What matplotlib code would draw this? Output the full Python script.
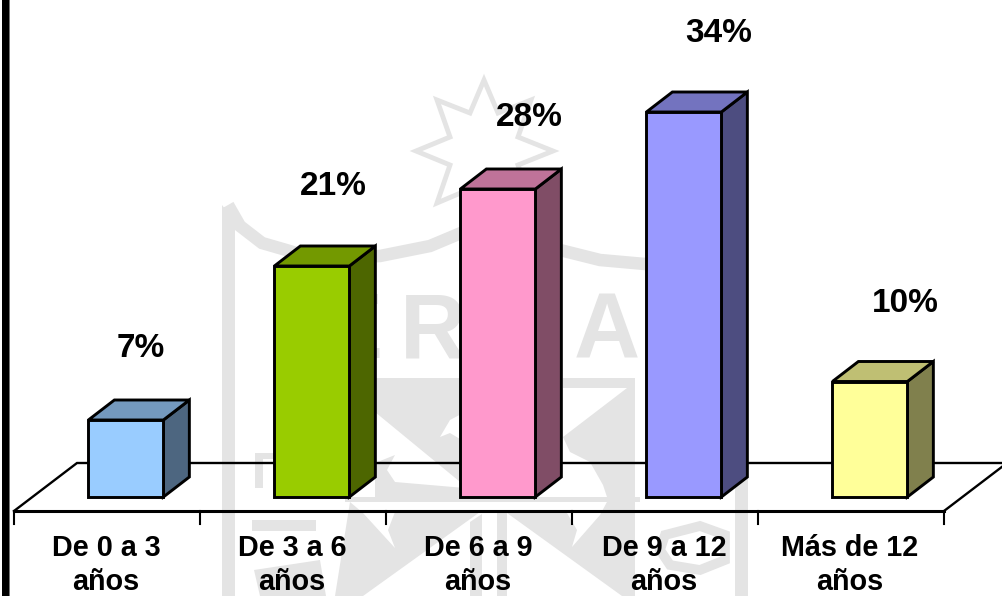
import matplotlib
matplotlib.use("Agg")
import matplotlib.pyplot as plt
from matplotlib.patches import Polygon, PathPatch, Rectangle
from matplotlib.path import Path
from matplotlib.transforms import Affine2D

plt.rcParams['font.family'] = ['Liberation Sans', 'DejaVu Sans']

# data
categories = ["De 0 a 3\naños", "De 3 a 6\naños", "De 6 a 9\naños", "De 9 a 12\naños", "Más de 12\naños"]
heights = [7, 21, 28, 35, 10.5]
labels = ["7%", "21%", "28%", "34%", "10%"]

front_colors = ["#99CCFF", "#99CC00", "#FF99CC", "#9999FF", "#FFFF99"]
top_colors = ["#7499BE", "#739900", "#BF7399", "#7373BF", "#BFBF73"]
side_colors = ["#4D6680", "#4D6600", "#804D66", "#4D4D80", "#80804D"]

# hand placed data labels, offset from the bar front centre (px)
label_dx = [15, 21, 31, 35, 35]
label_dy = [63, 71, 63, 70, 69]

W, H = 1003, 596
X0, XSTEP = 14, 186      # first tick, tick spacing (px)
Y0, YSTEP = 497, 11      # bar base, px per percent
DEPTH_X = 26 / XSTEP
DEPTH_Y = 20 / YSTEP
BAR_LEFT, BAR_W = 0.4, 0.403
WM = "#e4e4e4"

fig = plt.figure(figsize=(W / 100, H / 100), dpi=100, facecolor="white")
ax = fig.add_axes([0, 0, 1, 1])
ax.set_xlim(-X0 / XSTEP, (W - X0) / XSTEP)
ax.set_ylim((Y0 - H) / YSTEP, Y0 / YSTEP)
ax.axis("off")

# watermark shapes are in image pixels, y down
px = Affine2D().scale(1, -1).translate(0, H)


def wm_poly(points, color=WM):
    fig.add_artist(Polygon(points, closed=True, fc=color, ec="none", transform=px, zorder=-5))


def wm_line(points, lw=5.0, closed=False):
    codes = [Path.MOVETO] + [Path.LINETO] * (len(points) - 1)
    if closed:
        points = points + [points[0]]
        codes = codes + [Path.CLOSEPOLY]
    fig.add_artist(PathPatch(Path(points, codes), fc="none", ec=WM, lw=lw, transform=px, zorder=-5))


star = [(484, 80), (470, 113), (437, 100), (450, 137), (416, 151), (450, 165), (437, 203),
        (470, 189), (484, 222), (498, 189), (531, 203), (518, 165), (553, 151), (518, 137),
        (531, 100), (498, 113)]
wm_line(star, lw=3.5, closed=True)

# shield outline
wm_line([(228, 205), (240, 226), (262, 243), (300, 254), (340, 258), (380, 256), (430, 246), (480, 225)], lw=9)
wm_line([(530, 232), (560, 250), (600, 260), (645, 264), (690, 250), (720, 230), (740, 212)], lw=9)
wm_poly([(222, 205), (235, 222), (235, 596), (222, 596)])
wm_poly([(735, 225), (748, 205), (748, 596), (735, 596)])

# inner emblem
wm_poly([(375, 378), (465, 378), (465, 486), (375, 412)])
wm_poly([(440, 437), (450, 420), (465, 412), (465, 442), (450, 433)], color="white")
wm_poly([(375, 463), (395, 455), (387, 470), (395, 482), (465, 488), (465, 497), (375, 497)])
wm_poly([(635, 378), (563, 378), (563, 388), (627, 388), (563, 437), (570, 452), (590, 462), (603, 485),
         (608, 500), (635, 500)])
wm_poly([(345, 497), (640, 497), (640, 502), (345, 502)])
wm_poly([(350, 502), (363, 513), (395, 548), (388, 530), (395, 512), (480, 512), (363, 596), (335, 596)])
wm_poly([(507, 513), (567, 513), (577, 530), (572, 547), (600, 515), (608, 500), (635, 500), (635, 596),
         (622, 596)])
wm_poly([(470, 522), (482, 514), (482, 596), (470, 596)])
wm_poly([(497, 513), (507, 513), (507, 596), (497, 596)])
wm_poly([(255, 453), (275, 453), (275, 459), (263, 459), (263, 488), (255, 488)])
wm_poly([(252, 520), (316, 520), (316, 531), (252, 531)])
wm_poly([(254, 570), (320, 560), (326, 596), (260, 596)])
wm_line([(665, 535), (700, 526), (725, 535), (725, 560), (700, 570), (670, 565), (660, 550)], lw=7, closed=True)
for letter, x in [("E", 352), ("R", 433), ("A", 607)]:
    fig.text(x, 358, letter, color=WM, fontsize=66, fontweight="bold", ha="center", va="baseline",
             transform=px, zorder=-5)

# floor of the 3d chart
floor_y = (Y0 - 511) / YSTEP
back_y = (Y0 - 463) / YSTEP
floor_dx = 63 / XSTEP
n = len(categories)
ax.plot([0, floor_dx, n + floor_dx, n], [floor_y, back_y, back_y, floor_y], color="black", lw=1.7, zorder=1,
        solid_joinstyle="miter")
ax.plot([0, n], [floor_y, floor_y], color="black", lw=2.2, zorder=1)
for i in range(n + 1):
    ax.plot([i, i], [floor_y, floor_y - 13 / YSTEP], color="black", lw=1.5, zorder=1)

# bars, front + top + side
for i, h in enumerate(heights):
    x1 = i + BAR_LEFT
    x2 = x1 + BAR_W
    style = dict(ec="black", lw=2.1, joinstyle="miter", zorder=3 + i)
    ax.add_patch(Polygon([(x2, 0), (x2 + DEPTH_X, DEPTH_Y), (x2 + DEPTH_X, h + DEPTH_Y), (x2, h)],
                         fc=side_colors[i], **style))
    ax.add_patch(Polygon([(x1, h), (x2, h), (x2 + DEPTH_X, h + DEPTH_Y), (x1 + DEPTH_X, h + DEPTH_Y)],
                         fc=top_colors[i], **style))
    ax.add_patch(Rectangle((x1, 0), BAR_W, h, fc=front_colors[i], **style))
    ax.text(x1 + BAR_W / 2 + label_dx[i] / XSTEP, h + label_dy[i] / YSTEP, labels[i], ha="center", va="baseline",
            fontsize=24, fontweight="bold", color="black", zorder=20)
    ax.text(i + 0.5 - 1 / XSTEP, (Y0 - 534) / YSTEP, categories[i], ha="center", va="top", fontsize=20.7,
            fontweight="bold", color="black", linespacing=1.25, zorder=20)

# black rule on the left edge
fig.add_artist(Rectangle((2, 0), 7, H, fc="black", ec="none", transform=px, zorder=30))
fig.add_artist(Rectangle((9, 0), 1, H, fc="#777777", ec="none", transform=px, zorder=30))

fig.savefig("out.png", dpi=100, facecolor="white")
